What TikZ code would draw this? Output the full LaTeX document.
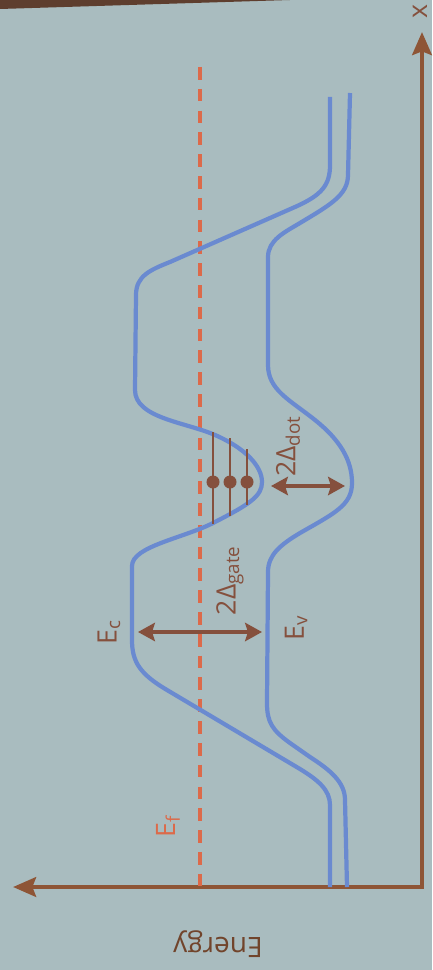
\documentclass[tikz,border=0pt]{standalone}
\usepackage{fontspec}
\setmainfont{Open Sans}
\usepackage{tikz}
\usetikzlibrary{arrows.meta}
\definecolor{slidebg}{HTML}{A9BCBF}
\definecolor{topedge}{HTML}{5E3E2E}
\definecolor{bandblue}{HTML}{6A8AD0}
\definecolor{fermired}{HTML}{DC6A4A}
\definecolor{axisbrown}{HTML}{8E5536}
\definecolor{levelbrown}{HTML}{85503D}

\begin{document}
\begin{tikzpicture}[
  x=0.01cm,y=0.01cm,
  every node/.style={font=\fontsize{7.6}{9}\selectfont,inner sep=0pt},
  lbl/.style={text=levelbrown,rotate=90},
  band/.style={draw=bandblue,line width=1.2pt},
  fermi/.style={draw=fermired,line width=1.4pt,dash pattern=on 3.6pt off 2.6pt},
  axis/.style={{Stealth[length=6.5pt,width=5.5pt,inset=1pt]}-{Stealth[length=6.5pt,width=5.5pt,inset=1pt]},line width=1.4pt,draw=axisbrown},
  gap/.style={{Stealth[length=4.8pt,width=5.2pt,inset=0.8pt]}-{Stealth[length=4.8pt,width=5.2pt,inset=0.8pt]},line width=1.1pt,draw=levelbrown},
  level/.style={draw=levelbrown,line width=0.7pt},
  electron/.style={circle,fill=levelbrown,minimum size=0.13cm,inner sep=0pt}
]
\path[use as bounding box,fill=slidebg] (0,0) rectangle (432,-970);
\fill[topedge] (0,0) -- (290,0) -- (0,-9) -- cycle;

% axes
\coordinate (origin) at (422,-887);
\coordinate (etip) at (13,-887);
\coordinate (xtip) at (422,-32);
\draw[axis] (etip) -- (origin) -- (xtip);
\node[rotate=180,text=axisbrown!80!black,font=\fontsize{8}{9}\selectfont] (energy) at (218,-944) {Energy};
\node[lbl] (xlab) at (420,-12) {x};

% Fermi level
\coordinate (eftop) at (200,-67);
\coordinate (efbot) at (200,-887);
\draw[fermi] (eftop) -- (efbot);
\node[lbl,text=fermired] (ef) at (168,-826) {E\textsubscript{f}};

% conduction band
\draw[band] (330,-887) -- (330,-805) .. controls (330,-790) and (318,-780) .. (300,-769)
  -- (167,-690) .. controls (140,-674) and (132,-662) .. (132,-640)
  -- (132,-566) .. controls (132,-546) and (185,-538) .. (215,-522)
  .. controls (250,-504) and (262,-496) .. (262,-482)
  .. controls (262,-466) and (245,-448) .. (215,-435)
  .. controls (185,-422) and (135,-418) .. (135,-390)
  -- (136,-295) .. controls (136,-276) and (150,-270) .. (170,-262)
  -- (295,-207) .. controls (322,-195) and (330,-185) .. (330,-165) -- (330,-97);
% valence band
\draw[band] (347,-887) -- (345,-800) .. controls (345,-782) and (330,-770) .. (310,-757)
  -- (290,-743) .. controls (272,-730) and (267,-722) .. (267,-703)
  -- (268,-572) .. controls (268,-555) and (280,-545) .. (300,-533)
  .. controls (335,-513) and (352,-505) .. (352,-483)
  .. controls (352,-460) and (340,-440) .. (315,-420)
  .. controls (290,-400) and (268,-390) .. (268,-365)
  -- (268,-257) .. controls (268,-240) and (285,-232) .. (300,-223)
  .. controls (330,-205) and (348,-195) .. (348,-175) -- (350,-93);
\node[lbl] (ec) at (109,-632) {E\textsubscript{c}};
\node[lbl] (ev) at (296,-627) {E\textsubscript{v}};

% dot levels
\draw[level] (213,-432) -- (213,-524);
\draw[level] (230,-438) -- (230,-516);
\draw[level] (247,-449) -- (247,-505);
\node[electron] (e1) at (213,-482) {};
\node[electron] (e2) at (230,-482) {};
\node[electron] (e3) at (247,-482) {};

% gaps
\coordinate (gl) at (138,-632);
\coordinate (gr) at (262,-632);
\draw[gap] (gl) -- (gr);
\node[lbl] (dgate) at (230,-580) {2Δ\textsubscript{gate}};
\coordinate (dl) at (271,-486);
\coordinate (dr) at (345,-486);
\draw[gap] (dl) -- (dr);
\node[lbl] (ddot) at (288,-446) {2Δ\textsubscript{dot}};
\end{tikzpicture}
\end{document}
